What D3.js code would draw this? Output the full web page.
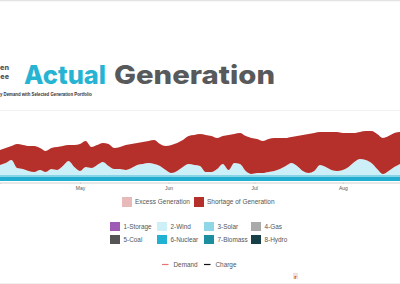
<!DOCTYPE html>
<html>
<head>
<meta charset="utf-8">
<script src="https://cdn.jsdelivr.net/npm/d3@7"></script>
<style>
  body { margin: 0; background: #fff; }
  svg { display: block; font-family: "Liberation Sans", Arial, sans-serif; }
</style>
</head>
<body>
<svg id="chart" width="400" height="284"></svg>
<script>
// data, one point every two days from Apr 3
const startDate = new Date(2018, 3, 3);
const demand = [31,33,35,37,36,35,35,33,30,33, 34,35,36,36,37,40,34,36,38,37,
                33,34,36,37,38,39,40,41,37,35, 36,38,41,45,46,47,46,45,43,45,
                46,47,48,45,43,42,40,42,43,43, 43,44,45,46,47,48,49,49,49,49,
                48,48,48,49,50,50,47,43,45,48, 49];
const wind = [10,12,15,7,6,4,3,5,3,6, 5,9,14,8,4,8,7,10,13,9,
              6,6,5,7,10,11,12,11,9,5, 2,4,8,11,10,9,3,3,6,11,
              5,12,11,4,1,2,2,3,4,6, 9,12,9,4,2,4,10,8,5,4,
              5,8,13,16,15,12,6,1,4,8, 11];
const solar = [2,2,2,2,2,2,2,2,2,2, 2,2,2,2,2,2,2,2,2,2,
               2,2,2,2,2,2,2,2,2,2, 2,2,2,2,2,2,2,2,2,2,
               2,2,2,2,2,2,2,2,2,2, 2,2,2,2,2,2,2,2,2,2,
               2,2,2,2,2,2,2,2,2,2, 2];
const nuclear = [4,4,4,4,4,4,4,4,4,4, 4,4,4,4,4,4,4,4,4,4,
                 4,4,4,4,4,4,4,4,4,4, 4,4,4,4,4,4,4,4,4,4,
                 4,4,4,4,4,4,4,4,4,4, 4,4,4,4,4,4,4,4,4,4,
                 4,4,4,4,4,4,4,4,4,4, 4];

const monthTicks = ["Apr", "May", "Jun", "Jul", "Aug"];
const genLegend = ["1-Storage", "2-Wind", "3-Solar", "4-Gas", "5-Coal", "6-Nuclear", "7-Biomass", "8-Hydro"];
const genColors = ["#9e5bb6", "#cdeff7", "#8fd6e6", "#aaaaaa", "#555555", "#21b1d2", "#1b8ea0", "#163f48"];
const balanceLegend = ["Excess Generation", "Shortage of Generation"];
const balanceColors = ["#e8b9b9", "#b5302a"];
const lineLegend = ["Demand", "Charge"];
const lineColors = ["#e57373", "#111111"];

const svg = d3.select("#chart");

// build rows for stacking
const rows = demand.map((d, i) => {
  const supply = nuclear[i] + solar[i] + wind[i];
  return {
    date: d3.timeDay.offset(startDate, i * 2),
    nuclear: nuclear[i],
    solar: solar[i],
    wind: wind[i],
    shortage: Math.max(0, d - supply)
  };
});

const x = d3.scaleTime()
  .domain([new Date(2018, 3, 3), new Date(2018, 7, 21)])
  .range([0, 400]);
const y = d3.scaleLinear().domain([0, 60]).range([181, 121]);

// top frame line
svg.append("line").attr("x1", 0).attr("x2", 400).attr("y1", 0.5).attr("y2", 0.5)
  .attr("stroke", "#e3e3e3").attr("stroke-width", 1.5);

// title block (left words are cut by the frame)
const side = svg.append("text")
  .attr("font-family", "Inter, sans-serif").attr("font-weight", 800).attr("font-size", 7.2)
  .attr("text-anchor", "end").attr("fill", "#58595b");
side.append("tspan").attr("x", 9).attr("y", 70).text("en");
side.append("tspan").attr("x", 9).attr("y", 78.5).text("ee");

svg.append("text").attr("x", 24).attr("y", 83.5)
  .attr("font-family", "Inter, sans-serif").attr("font-weight", 800).attr("font-size", 26)
  .attr("textLength", 82).attr("lengthAdjust", "spacingAndGlyphs")
  .attr("fill", "#27b4d3").text("Actual");
svg.append("text").attr("x", 114).attr("y", 83.5)
  .attr("font-family", "Inter, sans-serif").attr("font-weight", 800).attr("font-size", 26)
  .attr("textLength", 161).attr("lengthAdjust", "spacingAndGlyphs")
  .attr("fill", "#58595b").text("Generation");
svg.append("text").attr("x", 0).attr("y", 96)
  .attr("font-weight", 700).attr("font-size", 4.6)
  .attr("textLength", 92).attr("lengthAdjust", "spacingAndGlyphs")
  .attr("fill", "#333").text("y Demand with Selected Generation Portfolio");

// faint grid line at top of plot
svg.append("line").attr("x1", 0).attr("x2", 400).attr("y1", 110.5).attr("y2", 110.5)
  .attr("stroke", "#f2f2f2");

// stacked areas
const keys = ["nuclear", "solar", "wind", "shortage"];
const fills = { nuclear: "#21aed0", solar: "#86d4e6", wind: "#cdeff7", shortage: "#b5302a" };
const series = d3.stack().keys(keys)(rows);
const area = d3.area()
  .x(d => x(d.data.date))
  .y0(d => y(d[0]))
  .y1(d => y(d[1]))
  .curve(d3.curveMonotoneX);

svg.append("g").selectAll("path")
  .data(series)
  .join("path")
  .attr("fill", d => fills[d.key])
  .attr("d", area);

// x axis
const xAxis = d3.axisBottom(x)
  .tickValues(monthTicks.map((m, i) => new Date(2018, 3 + i, 1)))
  .tickFormat((d, i) => monthTicks[i])
  .tickSize(1.5);
const gx = svg.append("g").attr("transform", "translate(0,182.5)").call(xAxis);
gx.select(".domain").attr("stroke", "#cfcfcf");
gx.selectAll(".tick line").attr("stroke", "#cfcfcf");
gx.selectAll(".tick text").attr("font-size", 5).attr("fill", "#555").attr("dy", "0.5em");

// balance legend
const bl = svg.append("g").selectAll("g")
  .data(balanceLegend)
  .join("g")
  .attr("transform", (d, i) => `translate(${[122, 194][i]},197)`);
bl.append("rect").attr("width", 10).attr("height", 10).attr("fill", (d, i) => balanceColors[i]);
bl.append("text").attr("x", 13).attr("y", 5).attr("dy", "0.35em")
  .attr("font-size", 6.5).attr("fill", "#555").text(d => d);

// generation legend
const gl = svg.append("g").selectAll("g")
  .data(genLegend)
  .join("g")
  .attr("transform", (d, i) => `translate(${[110, 157, 204, 251][i % 4]},${i < 4 ? 222 : 235})`);
gl.append("rect").attr("width", 10).attr("height", 9).attr("fill", (d, i) => genColors[i]);
gl.append("text").attr("x", 13.5).attr("y", 4.5).attr("dy", "0.35em")
  .attr("font-size", 6.4).attr("fill", "#555").text(d => d);

// line legend
const ll = svg.append("g").selectAll("g")
  .data(lineLegend)
  .join("g")
  .attr("transform", (d, i) => `translate(${[162, 204][i]},264.5)`);
ll.append("line").attr("x1", 0).attr("x2", 6.5)
  .attr("stroke", (d, i) => lineColors[i]).attr("stroke-width", 1.2);
ll.append("text").attr("x", 11.5).attr("dy", "0.35em")
  .attr("font-size", 6.4).attr("fill", "#555").text(d => d);

// little icon near the bottom
svg.append("rect").attr("x", 293).attr("y", 273).attr("width", 5).attr("height", 6)
  .attr("fill", "#f3dede");
svg.append("text").attr("x", 295.5).attr("y", 278.5).attr("text-anchor", "middle")
  .attr("font-size", 6).attr("font-weight", 700).attr("fill", "#c0392b").text("r");

// bottom frame line
svg.append("line").attr("x1", 0).attr("x2", 400).attr("y1", 283.5).attr("y2", 283.5)
  .attr("stroke", "#f0f0f0");
</script>
</body>
</html>
